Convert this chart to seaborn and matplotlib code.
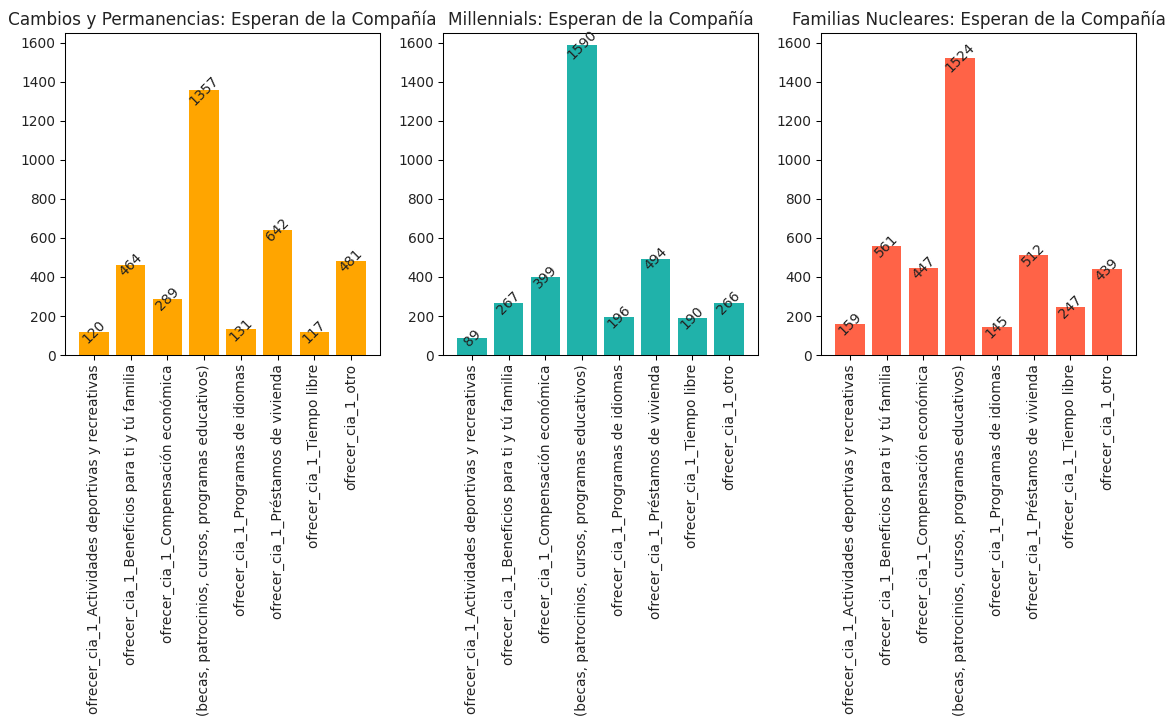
#!/usr/bin/env python3
"""Three panels: what each segment expects from the company (ofrecer_cia_1)."""

import matplotlib

matplotlib.use("Agg")
import matplotlib.pyplot as plt
import pandas as pd
import seaborn as sns

CATEGORIES = [
    "ofrecer_cia_1_Actividades deportivas y recreativas",
    "ofrecer_cia_1_Beneficios para ti y tú familia",
    "ofrecer_cia_1_Compensación económica",
    "(becas, patrocinios, cursos, programas educativos)",
    "ofrecer_cia_1_Programas de idiomas",
    "ofrecer_cia_1_Préstamos de vivienda",
    "ofrecer_cia_1_Tiempo libre",
    "ofrecer_cia_1_otro",
]

CAMBIOS = [120, 464, 289, 1357, 131, 642, 117, 481]
MILLENNIALS = [89, 267, 399, 1590, 196, 494, 190, 266]
FAMILIAS = [159, 561, 447, 1524, 145, 512, 247, 439]

PANELS = [
    ("Cambios y Permanencias: Esperan de la Compañía", CAMBIOS, "orange"),
    ("Millennials: Esperan de la Compañía", MILLENNIALS, "lightseagreen"),
    ("Familias Nucleares: Esperan de la Compañía", FAMILIAS, "tomato"),
]

DPI = 94


def main() -> None:
    fig, axes = plt.subplots(1, 3, figsize=(1174 / DPI, 721 / DPI), dpi=DPI)
    fig.subplots_adjust(left=0.0554, right=0.9676, top=0.954, bottom=0.5076, wspace=0.2)

    for ax, (title, values, color) in zip(axes, PANELS):
        df = pd.DataFrame({"categoria": CATEGORIES, "conteo": values})
        sns.barplot(
            data=df,
            x="categoria",
            y="conteo",
            color=color,
            saturation=1,
            width=0.8,
            ax=ax,
        )
        for i, v in enumerate(values):
            ax.text(i, v, str(v), ha="center", va="center", rotation=45,
                    fontsize=10.6, color="#222222")

        ax.set_title(title, fontsize=12.9, color="#222222")
        ax.set_xlabel("")
        ax.set_ylabel("")
        ax.set_xlim(-0.79, 7.79)
        ax.set_ylim(0, 1650)
        ax.tick_params(axis="x", labelrotation=90, labelsize=10.5, labelcolor="#222222")
        ax.tick_params(axis="y", labelsize=10.5, labelcolor="#222222")

    fig.savefig("out.png", dpi=DPI, facecolor="white")
    plt.close(fig)


if __name__ == "__main__":
    main()
